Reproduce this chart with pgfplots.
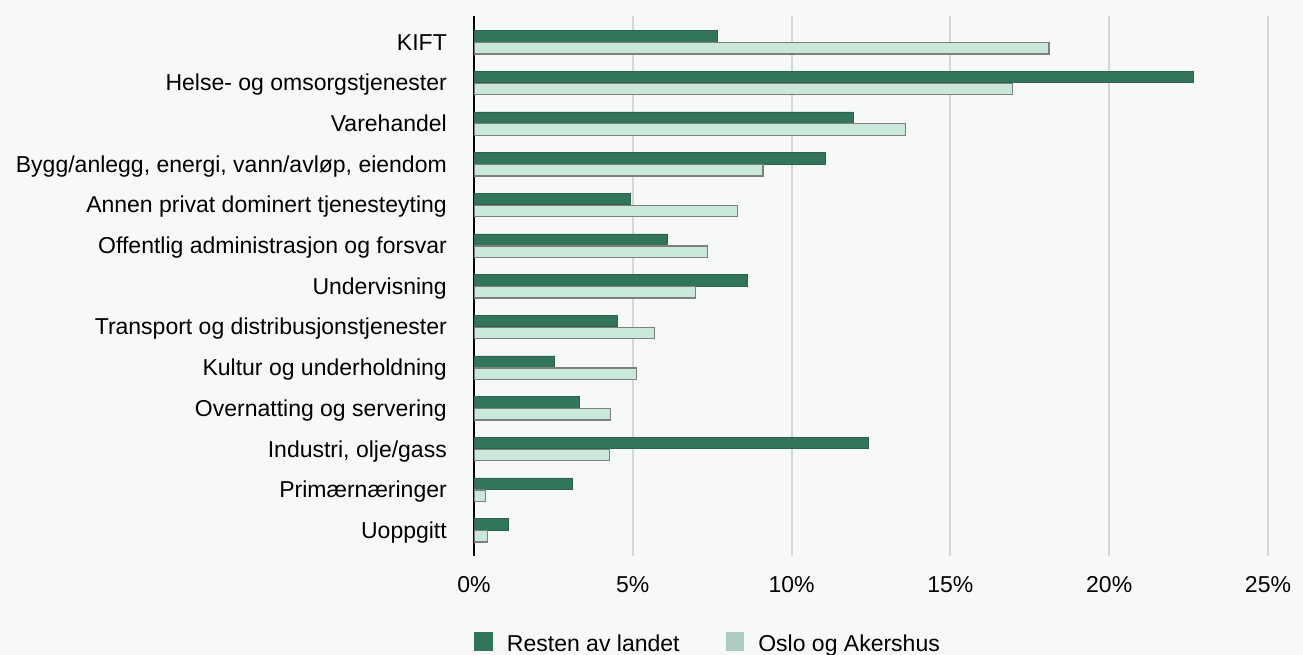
\documentclass[border=0pt]{standalone}
\usepackage{fontspec}
\setmainfont{Liberation Sans}
\usepackage{pgfplots}
\pgfplotsset{compat=1.18}
\definecolor{bg}{HTML}{F7F9F8}
\definecolor{dk}{HTML}{33755A}
\definecolor{dkb}{HTML}{2B634C}
\definecolor{lt}{HTML}{C9E8DA}
\definecolor{ltb}{HTML}{7F7F7F}
\definecolor{ltleg}{HTML}{ADCBBE}
\definecolor{grd}{HTML}{D6D6D6}
\begin{document}
\begin{tikzpicture}
\useasboundingbox[fill=bg] (0,0) rectangle (1303pt,655pt);
\begin{axis}[
  at={(474pt,99pt)}, anchor=south west,
  scale only axis, width=794pt, height=540pt,
  xbar, y dir=reverse,
  xmin=0, xmax=25, ymin=-0.645, ymax=12.63,
  axis x line=bottom, axis y line=left,
  x axis line style={draw=none},
  y axis line style={-, black, line width=2pt},
  xmajorgrids, grid style={grd, line width=2pt},
  major tick length=0pt,
  xtick={0,5,10,15,20,25},
  xticklabel={\pgfmathprintnumber{\tick}\%},
  /pgf/number format/assume math mode=true,
  ytick={0,1,2,3,4,5,6,7,8,9,10,11,12},
  yticklabels={KIFT, Helse- og omsorgstjenester, Varehandel, {Bygg/anlegg, energi, vann/avløp, eiendom}, Annen privat dominert tjenesteyting, Offentlig administrasjon og forsvar, Undervisning, Transport og distribusjonstjenester, Kultur og underholdning, Overnatting og servering, {Industri, olje/gass}, Primærnæringer, Uoppgitt},
  tick label style={font=\fontsize{23}{28}\selectfont},
  yticklabel style={anchor=base east, inner sep=0pt, xshift=-27pt, yshift=-8pt},
  xticklabel style={anchor=base, inner sep=0pt, yshift=-36pt},
  bar width=11.5pt,
  legend style={at={(0,-0.1407)}, anchor=north west, draw=none, fill=none,
    inner sep=0pt, outer sep=0pt,
    nodes={inner sep=0pt, font=\fontsize{23}{28}\selectfont},
    legend columns=2, column sep=0pt,
    /tikz/every odd column/.append style={column sep=14.4pt},
    /tikz/every even column/.append style={column sep=46pt}},
]
\addplot[fill=dk, draw=dkb, line width=0.6pt, bar shift=6pt,
  legend image code/.code={\fill[dk] (0pt,-7pt) rectangle (18pt,11pt);}]
  coordinates {(7.66,0) (22.65,1) (11.95,2) (11.06,3) (4.92,4) (6.10,5) (8.60,6) (4.52,7) (2.54,8) (3.31,9) (12.40,10) (3.11,11) (1.08,12)};
\addlegendentry{Resten av landet}
\addplot[fill=lt, draw=ltb, line width=1.3pt, bar shift=-6pt,
  legend image code/.code={\fill[ltleg] (0pt,-7pt) rectangle (17pt,11pt);}]
  coordinates {(18.10,0) (16.95,1) (13.59,2) (9.10,3) (8.29,4) (7.36,5) (6.97,6) (5.68,7) (5.11,8) (4.29,9) (4.27,10) (0.37,11) (0.43,12)};
\addlegendentry{Oslo og Akershus}
\end{axis}
\end{tikzpicture}
\end{document}
